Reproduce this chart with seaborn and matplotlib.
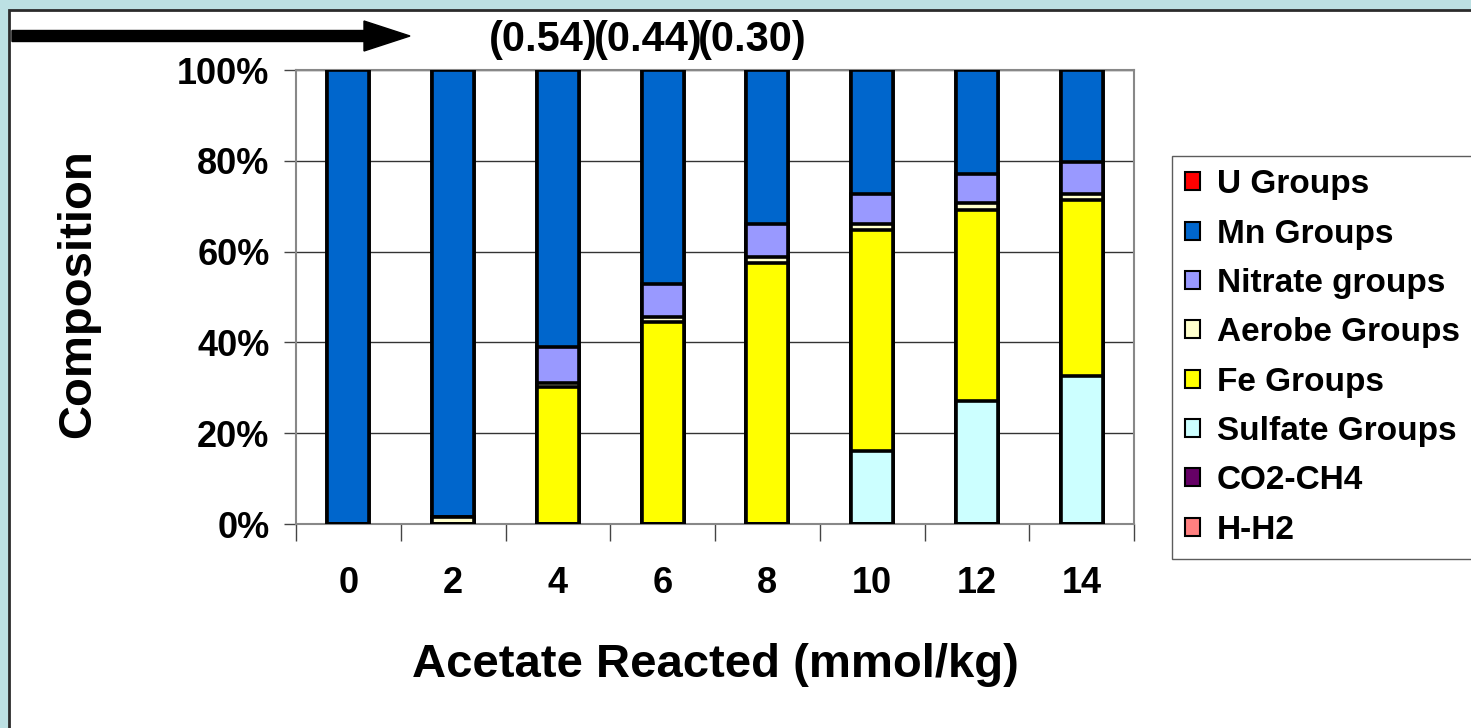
import matplotlib
matplotlib.use("Agg")
import matplotlib.pyplot as plt
import matplotlib.transforms as mtransforms
from matplotlib.patches import Patch, Rectangle, FancyArrow
from matplotlib.ticker import FixedLocator
import numpy as np
import seaborn as sns

# acetate reacted (mmol/kg)
acetate = ["0", "2", "4", "6", "8", "10", "12", "14"]

# composition (%) per group
h_h2 = [0, 0, 0, 0, 0, 0, 0, 0]
co2_ch4 = [0, 0, 0, 0, 0, 0, 0, 0]
sulfate = [0, 0, 0, 0, 0, 16.1, 27.1, 32.6]
fe = [0, 0, 30.1, 44.4, 57.4, 48.7, 42.1, 38.8]
aerobe = [0, 1.6, 1.0, 1.3, 1.5, 1.3, 1.4, 1.2]
nitrate = [0, 0, 7.9, 7.1, 7.2, 6.5, 6.5, 7.1]
mn = [100, 98.4, 61.0, 47.2, 33.9, 27.4, 22.9, 20.3]
u = [0, 0, 0, 0, 0, 0, 0, 0]

# bottom -> top stacking order
series_names = ["H-H2", "CO2-CH4", "Sulfate Groups", "Fe Groups", "Aerobe Groups",
                "Nitrate groups", "Mn Groups", "U Groups"]
series_vals = [h_h2, co2_ch4, sulfate, fe, aerobe, nitrate, mn, u]
series_colors = ["#FF8080", "#660066", "#CCFFFF", "#FFFF00", "#FFFFCC",
                 "#9999FF", "#0066CC", "#FF0000"]

annot_labels = ["(0.54)", "(0.44)", "(0.30)"]
annot_bars = [2, 3, 4]

sns.set_style("white")
plt.rcParams["font.family"] = ["Liberation Sans", "DejaVu Sans"]
plt.rcParams["font.weight"] = "bold"
plt.rcParams["text.color"] = "black"
plt.rcParams["axes.labelcolor"] = "black"
plt.rcParams["xtick.color"] = "black"
plt.rcParams["ytick.color"] = "black"

fig = plt.figure(figsize=(14.71, 7.28), dpi=100)
fig.patch.set_facecolor("#BCE0E3")
fig.add_artist(Rectangle((9 / 1471, -0.05), 1.1, 1 - 10 / 728 + 0.05,
                         transform=fig.transFigure, facecolor="white",
                         edgecolor="#2b2b2b", linewidth=2, zorder=0))

ax = fig.add_axes([296 / 1471, 1 - 524 / 728, 838 / 1471, 454 / 728])
ax.set_facecolor("white")

# cumulative totals, drawn from the top of the stack down so lower ones overlay
cum = np.cumsum(np.array(series_vals, dtype=float), axis=0)
for i in range(len(series_names) - 1, -1, -1):
    sns.barplot(x=acetate, y=cum[i], color=series_colors[i], saturation=1,
                width=0.4, edgecolor="black", linewidth=2.6, ax=ax, zorder=3)

ax.set_ylim(0, 100)
ax.set_xlim(-0.5, len(acetate) - 0.5)
ax.set_yticks([0, 20, 40, 60, 80, 100])
ax.set_yticklabels(["0%", "20%", "40%", "60%", "80%", "100%"])
ax.yaxis.grid(True, color="#333333", linewidth=1, zorder=0)
ax.set_axisbelow(True)
for side in ["left", "bottom", "right", "top"]:
    ax.spines[side].set_visible(True)
    ax.spines[side].set_color("#888888")
    ax.spines[side].set_linewidth(1.5)

ax.tick_params(axis="y", which="major", left=True, length=9, width=1,
               color="#444444", pad=10, labelsize=26)
ax.tick_params(axis="x", which="major", length=0, pad=30, labelsize=26)
ax.xaxis.set_minor_locator(FixedLocator(np.arange(-0.5, len(acetate), 1.0)))
ax.tick_params(axis="x", which="minor", bottom=True, length=12, width=1,
               color="#444444")
for lab in ax.get_xticklabels() + ax.get_yticklabels():
    lab.set_fontweight("bold")

ax.set_xlabel("Acetate Reacted (mmol/kg)", fontsize=34, fontweight="bold")
ax.set_ylabel("Composition", fontsize=34, fontweight="bold")
ax.xaxis.set_label_coords(0.5, -0.262)
ax.yaxis.set_label_coords(-0.234, 0.507)

# legend, top of stack first
handles = [Patch(facecolor=series_colors[i], edgecolor="black", linewidth=1.5,
                 label=series_names[i]) for i in range(len(series_names) - 1, -1, -1)]
leg = fig.legend(handles=handles, loc="upper left",
                 bbox_to_anchor=(1172 / 1471, 1 - 156 / 728),
                 bbox_transform=fig.transFigure, borderaxespad=0,
                 fontsize=24, frameon=True, fancybox=False,
                 handlelength=0.45, handleheight=0.45, handletextpad=0.5,
                 labelspacing=0.55, borderpad=0.4)
leg.get_frame().set_edgecolor("#333333")
leg.get_frame().set_linewidth(1)
for t in leg.get_texts():
    t.set_fontweight("bold")

# ratio annotations above bars
trans = mtransforms.blended_transform_factory(ax.transData, fig.transFigure)
for lab, b in zip(annot_labels, annot_bars):
    ax.text(b - 0.14, 1 - 40 / 728, lab, transform=trans, ha="center", va="center",
            fontsize=30, fontweight="bold",
            family=["Liberation Sans Narrow", "Liberation Sans"])

# black arrow at top left
fig.add_artist(FancyArrow(12 / 1471, 1 - 36 / 728, 352 / 1471, 0,
                          width=11 / 728, head_width=30 / 728,
                          head_length=46 / 1471, length_includes_head=False,
                          transform=fig.transFigure, color="black"))

fig.savefig("out.png", dpi=100, facecolor=fig.get_facecolor())
